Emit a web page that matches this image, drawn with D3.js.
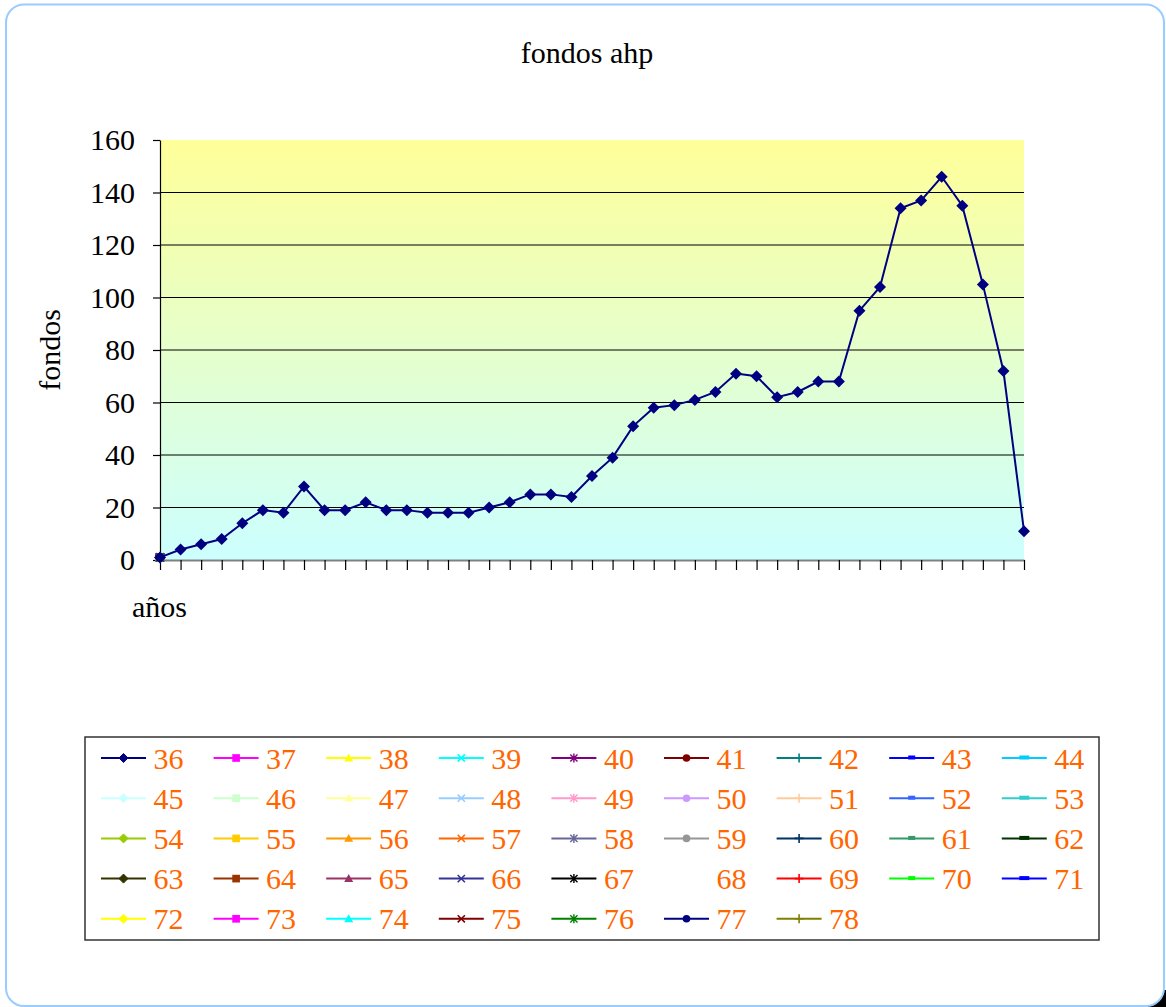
<!DOCTYPE html>
<html><head><meta charset="utf-8">
<script src="https://cdn.jsdelivr.net/npm/d3@7/dist/d3.min.js"></script>
<style>
html,body{margin:0;padding:0;background:#fff;}
svg text{font-family:"Liberation Serif","Times New Roman",Tinos,"DejaVu Serif",serif !important;}
</style></head>
<body><svg id="c" width="1166" height="1007"></svg>
<script>
// ---- data ----
const categories = ["36","37","38","39","40","41","42","43","44","45","46","47","48","49","50","51","52","53","54","55","56","57","58","59","60","61","62","63","64","65","66","67","68","69","70","71","72","73","74","75","76","77","78"];
const fondos = [1,4,6,8,14,19,18,28,19,19,22,19,19,18,18,18,20,22,25,25,24,32,39,51,58,59,61,64,71,70,62,64,68,68,95,104,134,137,146,135,105,72,11];
const seriesNames = ["36","37","38","39","40","41","42","43","44","45","46","47","48","49","50","51","52","53","54","55","56","57","58","59","60","61","62","63","64","65","66","67","68","69","70","71","72","73","74","75","76","77","78"];
const seriesColors = ["#000080","#FF00FF","#FFFF00","#00FFFF","#800080","#800000","#008080","#0000FF","#00CCFF",
  "#CCFFFF","#CCFFCC","#FFFF99","#99CCFF","#FF99CC","#CC99FF","#FFCC99","#3366FF","#33CCCC",
  "#99CC00","#FFCC00","#FF9900","#FF6600","#666699","#969696","#003366","#339966","#003300",
  "#333300","#993300","#993366","#333399","#000000","#FFFFFF","#FF0000","#00FF00","#0000FF",
  "#FFFF00","#FF00FF","#00FFFF","#800000","#008000","#000080","#808000"];
const markerCycle = ["diamond","square","triangle","x","star","circle","plus","dash","dashLong"];
const otherSeriesFirstValue = [1];
const yTicks = [0,20,40,60,80,100,120,140,160];
const titleText = "fondos ahp";
const yTitle = "fondos";
const xTitle = "años";

// ---- layout ----
const svg = d3.select("#c");
const plot = {l:160, r:1024, t:140, b:560};

// frame
svg.append("rect").attr("x",1148).attr("y",990).attr("width",18).attr("height",17).attr("fill","#000");
svg.append("rect").attr("x",6).attr("y",4.5).attr("width",1158).attr("height",1001.5)
  .attr("rx",18).attr("ry",18).attr("fill","#fff").attr("stroke","#99CCFF").attr("stroke-width",2);

const defs = svg.append("defs");
const grad = defs.append("linearGradient").attr("id","bg").attr("x1",0).attr("y1",0).attr("x2",0).attr("y2",1);
grad.append("stop").attr("offset","0%").attr("stop-color","#FFFF99");
grad.append("stop").attr("offset","100%").attr("stop-color","#CCFFFF");

const x = d3.scalePoint().domain(categories).range([plot.l, plot.r]);
const y = d3.scaleLinear().domain([0,160]).range([plot.b, plot.t]);

svg.append("rect").attr("x",plot.l).attr("y",plot.t).attr("width",plot.r-plot.l).attr("height",plot.b-plot.t)
  .attr("fill","url(#bg)");

// gridlines
svg.append("g").selectAll("line").data(yTicks.filter(v=>v>0 && v<160)).join("line")
  .attr("x1",plot.l).attr("x2",plot.r).attr("y1",d=>y(d)).attr("y2",d=>y(d))
  .attr("stroke","#000").attr("stroke-width",1.2);

// y axis
const ya = svg.append("g").attr("transform",`translate(${plot.l},0)`)
  .call(d3.axisLeft(y).tickValues(yTicks).tickSize(7).tickPadding(18).tickSizeOuter(0));
ya.select(".domain").attr("stroke","#000").attr("stroke-width",1.2);
ya.selectAll(".tick line").attr("stroke","#000").attr("stroke-width",1.2);
ya.selectAll(".tick text").attr("font-size",30).attr("fill","#000");

// x axis
const xa = svg.append("g").attr("transform",`translate(0,${plot.b})`)
  .call(d3.axisBottom(x).tickSize(10).tickFormat("").tickSizeOuter(0));
xa.select(".domain").attr("stroke","#808080").attr("stroke-width",2);
xa.selectAll(".tick line").attr("stroke","#000").attr("stroke-width",1.2);

// marker drawing
function drawMarker(g, type, color, s){
  const fill = color;
  if(type==="diamond"){
    g.append("path").attr("d",`M0,${-s}L${s},0L0,${s}L${-s},0Z`).attr("fill",fill).attr("stroke",color);
  } else if(type==="square"){
    const h=s*0.85; g.append("rect").attr("x",-h).attr("y",-h).attr("width",2*h).attr("height",2*h).attr("fill",fill);
  } else if(type==="triangle"){
    g.append("path").attr("d",`M0,${-s}L${s},${s*0.75}L${-s},${s*0.75}Z`).attr("fill",fill);
  } else if(type==="x"){
    const h=s*0.8; g.append("path").attr("d",`M${-h},${-h}L${h},${h}M${-h},${h}L${h},${-h}`).attr("stroke",color).attr("stroke-width",1.6);
  } else if(type==="star"){
    const h=s*0.8; g.append("path").attr("d",`M${-h},${-h}L${h},${h}M${-h},${h}L${h},${-h}M0,${-s}L0,${s}`).attr("stroke",color).attr("stroke-width",1.4);
  } else if(type==="circle"){
    g.append("circle").attr("r",s*0.85).attr("fill",fill);
  } else if(type==="plus"){
    g.append("path").attr("d",`M${-s},0L${s},0M0,${-s}L0,${s}`).attr("stroke",color).attr("stroke-width",1.6);
  } else if(type==="dash"){
    g.append("rect").attr("x",-3.5).attr("y",-2.5).attr("width",7).attr("height",4).attr("fill",fill);
  } else if(type==="dashLong"){
    g.append("rect").attr("x",-5).attr("y",-2.5).attr("width",10).attr("height",4).attr("fill",fill);
  }
}

// other series markers at first category
seriesNames.forEach((n,i)=>{
  if(i===0) return;
  const g = svg.append("g").attr("transform",`translate(${x(categories[0])},${y(otherSeriesFirstValue[0])})`);
  drawMarker(g, markerCycle[i%9], seriesColors[i], 5);
});

// main series line
svg.append("path").datum(fondos)
  .attr("d", d3.line().x((d,i)=>x(categories[i])).y(d=>y(d)))
  .attr("fill","none").attr("stroke","#000080").attr("stroke-width",2);
svg.append("g").selectAll("path").data(fondos).join("path")
  .attr("transform",(d,i)=>`translate(${x(categories[i])},${y(d)})`)
  .attr("d","M0,-6L6,0L0,6L-6,0Z").attr("fill","#000080");

// titles
svg.append("text").attr("x",587).attr("y",63).attr("text-anchor","middle")
  .attr("font-size",30).attr("fill","#000").text(titleText);
svg.append("text").attr("transform","translate(60,350) rotate(-90)").attr("text-anchor","middle")
  .attr("font-size",30).attr("fill","#000").text(yTitle);
svg.append("text").attr("x",132).attr("y",617).attr("font-size",30).attr("fill","#000").text(xTitle);

// legend
svg.append("rect").attr("x",85).attr("y",737).attr("width",1014).attr("height",203)
  .attr("fill","#fff").attr("stroke","#333").attr("stroke-width",1.5);
seriesNames.forEach((n,i)=>{
  const r = Math.floor(i/9), c = i%9;
  const cy = 758 + r*40.2;
  const x0 = 101 + c*112.6;
  const col = seriesColors[i];
  svg.append("line").attr("x1",x0).attr("x2",x0+45).attr("y1",cy).attr("y2",cy)
    .attr("stroke",col).attr("stroke-width",2);
  const g = svg.append("g").attr("transform",`translate(${x0+22.5},${cy})`);
  drawMarker(g, markerCycle[i%9], col, 4.5);
  svg.append("text").attr("x",x0+52.5).attr("y",cy+10.5).attr("font-size",30)
    .attr("fill","#FF6600").text(n);
});
</script></body></html>
